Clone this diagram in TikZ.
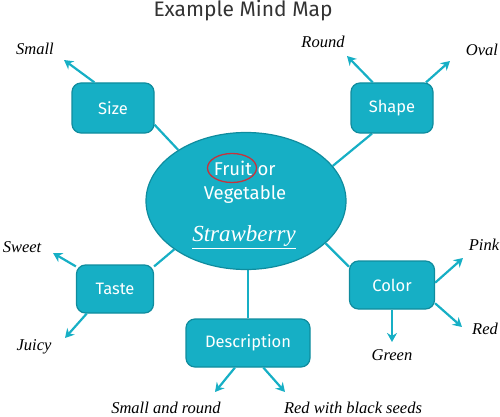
\documentclass[tikz,border=0pt]{standalone}
\usepackage{fontspec}
\setmainfont{Fira Sans}
\newfontfamily\handfont{Liberation Serif}
\usetikzlibrary{arrows.meta,shapes.geometric,backgrounds}
\definecolor{mapteal}{HTML}{16AFC5}
\definecolor{mapedge}{HTML}{0F8C9E}
\definecolor{mapred}{HTML}{C8323C}
\definecolor{titlegray}{HTML}{333333}

\begin{document}
\begin{tikzpicture}[
    x=1pt, y=-1pt,
    catbox/.style={draw=mapedge, line width=1.2pt, fill=mapteal, rounded corners=9pt, minimum width=82pt, minimum height=50pt, text=white, font=\fontsize{16.5}{19}\selectfont},
    hubtext/.style={text=white, inner sep=0pt, font=\fontsize{18.5}{22}\selectfont},
    leaf/.style={font=\handfont\itshape\fontsize{16.5}{19}\selectfont, inner sep=1pt},
    link/.style={mapteal, line width=2.2pt},
    arrow/.style={link, -{Stealth[length=9pt, width=10pt]}}
  ]
  \useasboundingbox (0,0) rectangle (500,417);
  \node[text=titlegray, font=\fontsize{21}{25}\selectfont] (title) at (243,11) {Example Mind Map};
  % centre and categories
  \node[ellipse, draw=mapedge, line width=1.2pt, fill=mapteal, minimum width=200pt, minimum height=137pt] (hub) at (246,201) {};
  \node[catbox] (size) at (113,108) {Size};
  \node[catbox] (shape) at (392,108) {Shape};
  \node[catbox, minimum width=77pt, minimum height=48pt] (taste) at (115,289) {Taste};
  \node[catbox, minimum width=85pt, minimum height=48pt] (color) at (392,285) {Color};
  \node[catbox, minimum width=124pt, minimum height=48pt] (desc) at (248,343) {Description};
  % text in the centre
  \node[hubtext, anchor=base] (fruit) at (233,175) {Fruit};
  \node[hubtext, anchor=base west] (or) at ([xshift=5pt]fruit.base east) {or};
  \node[hubtext, anchor=base] (veg) at (245,199) {Vegetable};
  \node[text=white, font=\handfont\itshape\fontsize{23}{26}\selectfont, inner sep=0pt] (berry) at (244,236) {Strawberry};
  \draw[white, line width=1pt] ([yshift=-2pt]berry.south west) -- ([yshift=-2pt]berry.south east);
  \node[ellipse, draw=mapred, line width=1.3pt, minimum width=49pt, minimum height=29pt] (ring) at (232,168) {};
  % leaves
  \node[leaf] (small) at (35,49) {Small};
  \node[leaf] (round) at (323,42) {Round};
  \node[leaf] (oval) at (482,50) {Oval};
  \node[leaf] (sweet) at (22,247) {Sweet};
  \node[leaf] (juicy) at (34,347) {Juicy};
  \node[leaf] (smallround) at (166,408) {Small and round};
  \node[leaf] (seeds) at (353,408) {Red with black seeds};
  \node[leaf] (pink) at (484,245) {Pink};
  \node[leaf] (red) at (485,329) {Red};
  \node[leaf] (green) at (392,355) {Green};
  % arrow tips
  \coordinate (smallend) at (64,60);
  \coordinate (roundend) at (347,56);
  \coordinate (ovalend) at (450,61);
  \coordinate (sweetend) at (53,253);
  \coordinate (juicyend) at (65,338);
  \coordinate (smallroundend) at (215,392);
  \coordinate (seedsend) at (285,392);
  \coordinate (pinkend) at (463,258);
  \coordinate (redend) at (462,327);
  \coordinate (greenend) at (392,342);
  \begin{scope}[on background layer]
    \draw[link] (size.-22) -- (hub.143);
    \draw[link] (shape.232) -- (hub.22);
    \draw[link] (taste.30) -- (hub.214);
    \draw[link] (color.157) -- (hub.332);
    \draw[link] (desc.north) -- (desc.north |- hub.south);
  \end{scope}
  \draw[arrow] (size.126) -- (smallend);
  \draw[arrow] (shape.127) -- (roundend);
  \draw[arrow] (shape.37) -- (ovalend);
  \draw[arrow] (taste.150) -- (sweetend);
  \draw[arrow] (taste.221) -- (juicyend);
  \draw[arrow] (desc.242) -- (smallroundend);
  \draw[arrow] (desc.302) -- (seedsend);
  \draw[arrow] (color.3) -- (pinkend);
  \draw[arrow] (color.-23) -- (redend);
  \draw[arrow] (color.south) -- (greenend);
\end{tikzpicture}
\end{document}
